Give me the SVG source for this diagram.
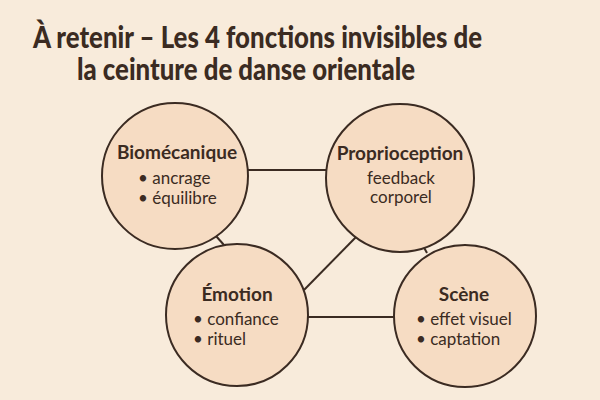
<svg xmlns="http://www.w3.org/2000/svg" width="600" height="400" viewBox="0 0 600 400">
<style>
.bg{fill:#f8ebdb}
.node{fill:#f6dcc3;stroke:#3b2b22;stroke-width:2}
.conn line{stroke:#3b2b22;stroke-width:2}
text{font-family:Lato,"Open Sans",sans-serif;fill:#3b2b22}
.title{font-size:30px;font-weight:900}
.h{font-size:19px;font-weight:bold;text-anchor:middle}
.b{font-size:17px}
.c{font-size:17px;text-anchor:middle}
</style>
<rect class="bg" width="600" height="400"/>
<text class="title" x="33" y="48" textLength="449" lengthAdjust="spacingAndGlyphs">À retenir – Les 4 fonctions invisibles de</text>
<text class="title" x="77" y="80" textLength="338" lengthAdjust="spacingAndGlyphs">la ceinture de danse orientale</text>
<g class="conn">
<line x1="248" y1="170" x2="327" y2="170"/>
<line x1="216" y1="236" x2="224" y2="245"/>
<line x1="358" y1="235" x2="304" y2="290"/>
<line x1="421" y1="242" x2="427" y2="253"/>
<line x1="307" y1="317" x2="395" y2="317"/>
</g>
<g id="biomecanique">
<circle class="node" cx="175" cy="176" r="73"/>
<text class="h" x="177" y="159">Biomécanique</text>
<text class="b" x="138" y="184">• ancrage</text>
<text class="b" x="138" y="204">• équilibre</text>
</g>
<g id="proprioception">
<circle class="node" cx="400" cy="178" r="74"/>
<text class="h" x="400" y="160">Proprioception</text>
<text class="c" x="401" y="184">feedback</text>
<text class="c" x="401" y="203">corporel</text>
</g>
<g id="emotion">
<circle class="node" cx="237" cy="315" r="71"/>
<text class="h" x="237" y="301">Émotion</text>
<text class="b" x="193" y="325">• confiance</text>
<text class="b" x="193" y="345">• rituel</text>
</g>
<g id="scene">
<circle class="node" cx="465" cy="316" r="71"/>
<text class="h" x="464" y="301">Scène</text>
<text class="b" x="416" y="325">• effet visuel</text>
<text class="b" x="416" y="345">• captation</text>
</g>
</svg>
